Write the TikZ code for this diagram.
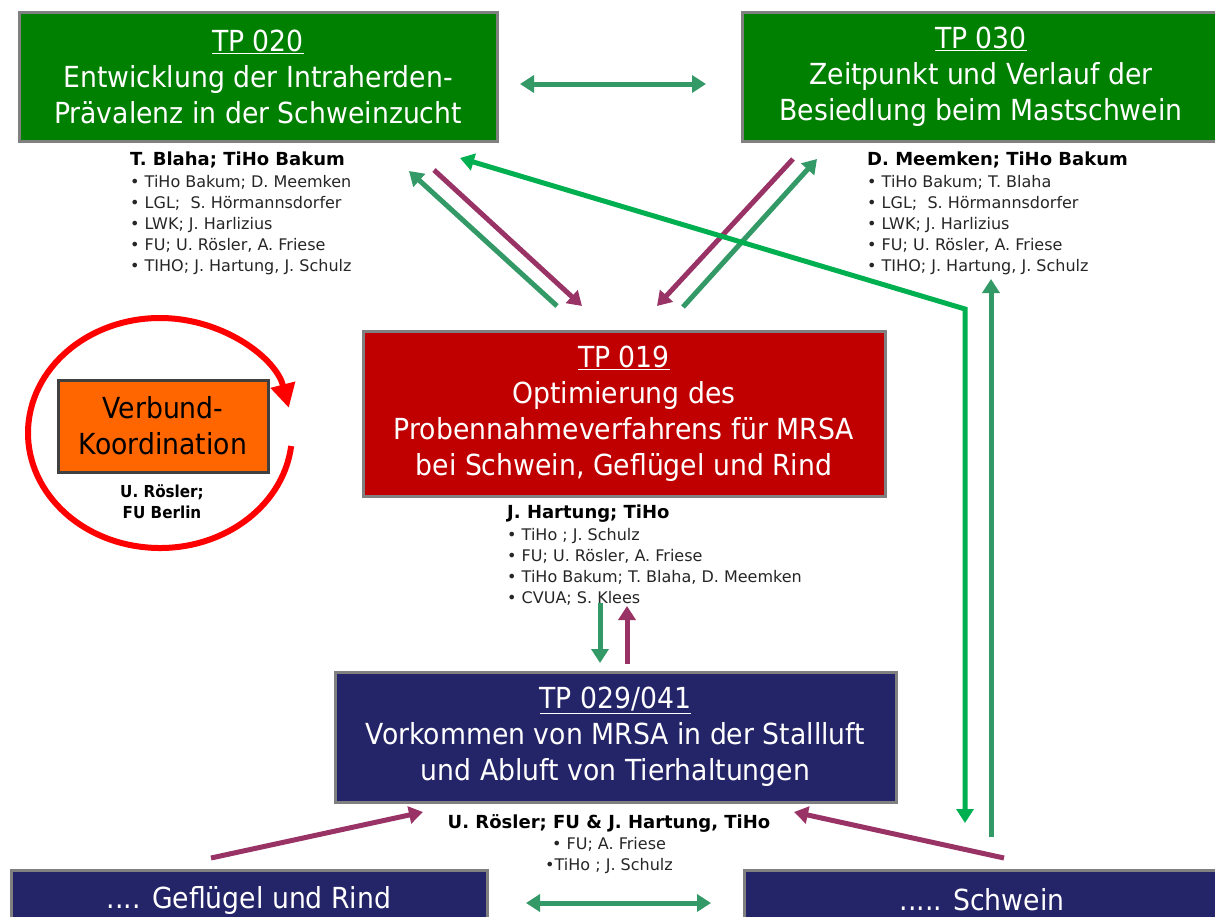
\documentclass[tikz,border=0pt]{standalone}
\usepackage{fontspec}
\setmainfont{DejaVu Sans}
\newfontfamily\tfont[FakeStretch=0.92]{DejaVu Sans}
\newfontfamily\afont{DejaVu Sans}
\usetikzlibrary{arrows.meta}
\definecolor{boxgreen}{HTML}{008000}
\definecolor{boxred}{HTML}{C00000}
\definecolor{boxnavy}{HTML}{242468}
\definecolor{boxorange}{HTML}{FF6600}
\definecolor{sgreen}{HTML}{339966}
\definecolor{bgreen}{HTML}{00B050}
\definecolor{plum}{HTML}{993366}
\definecolor{bordergray}{HTML}{808080}
\definecolor{ringred}{HTML}{FF0000}
\begin{document}
\begin{tikzpicture}[x=1pt,y=-1pt,
  tpbox/.style={draw=bordergray, line width=3pt, text=white, align=center, inner sep=0pt,
    font=\tfont\fontsize{29}{36}\selectfont},
  authors/.style={align=left, anchor=north west, inner sep=0pt,
    font=\afont\fontsize{16}{21.2}\selectfont, text=black!85},
  arr/.style={line width=5pt, -{Triangle[width=17pt,length=14pt]}},
  darr/.style={line width=5pt, {Triangle[width=17pt,length=14pt]}-{Triangle[width=17pt,length=14pt]}},
]
\newcommand{\hdr}[1]{{\bfseries\fontsize{18}{21.2}\selectfont\color{black}#1}}
\useasboundingbox (0,0) rectangle (1215,916);
\fill[white] (0,0) rectangle (1215,916);

% boxes
\node[tpbox, fill=boxgreen, minimum width=478, minimum height=129] (tp20) at (258,76.5)
  {\underline{TP 020}\\Entwicklung der Intraherden-\\Prävalenz in der Schweinzucht};
\node[tpbox, fill=boxgreen, minimum width=478, minimum height=129] (tp30) at (981,76.5)
  {\underline{TP 030}\\Zeitpunkt und Verlauf der\\Besiedlung beim Mastschwein};
\node[tpbox, fill=boxred, minimum width=522, minimum height=165] (tp19) at (624,413.5)
  {\underline{TP 019}\\Optimierung des\\Probennahmeverfahrens für MRSA\\bei Schwein, Geflügel und Rind};
\node[tpbox, fill=boxnavy, minimum width=561, minimum height=130] (tp29) at (615.5,737)
  {\underline{TP 029/041}\\Vorkommen von MRSA in der Stallluft\\und Abluft von Tierhaltungen};
\node[tpbox, fill=boxnavy, minimum width=476, minimum height=60] (gr) at (249,900)
  {.... Geflügel und Rind};
\node[tpbox, fill=boxnavy, minimum width=476, minimum height=60] (sw) at (982,900)
  {..... Schwein};
\node[tpbox, fill=boxorange, draw=black!75, text=black, minimum width=210, minimum height=92] (vk) at (163,426)
  {Verbund-\\Koordination};
\node[align=center, inner sep=0pt, font=\tfont\bfseries\fontsize{16.5}{21}\selectfont] (vkl) at (162,502)
  {U. Rösler;\\FU Berlin};

% coordination ring
\draw[ringred, line width=6pt, -{Triangle[width=24pt,length=24pt]}]
  (160,433) ++(6.5:132 and 115) arc[start angle=6.5, end angle=347.4, x radius=132, y radius=115];

% authors
\node[authors] (a20) at (130,152)
  {\hdr{T. Blaha; TiHo Bakum}\\
   • TiHo Bakum; D. Meemken\\
   • LGL;\ \ S. Hörmannsdorfer\\
   • LWK; J. Harlizius\\
   • FU; U. Rösler, A. Friese\\
   • TIHO; J. Hartung, J. Schulz};
\node[authors] (a30) at (867,152)
  {\hdr{D. Meemken; TiHo Bakum}\\
   • TiHo Bakum; T. Blaha\\
   • LGL;\ \ S. Hörmannsdorfer\\
   • LWK; J. Harlizius\\
   • FU; U. Rösler, A. Friese\\
   • TIHO; J. Hartung, J. Schulz};
\node[authors] (a19) at (507,505)
  {\hdr{J. Hartung; TiHo}\\
   • TiHo ; J. Schulz\\
   • FU; U. Rösler, A. Friese\\
   • TiHo Bakum; T. Blaha, D. Meemken\\
   • CVUA; S. Klees};
\node[authors, anchor=north, align=center] (a29) at (609,814)
  {\hdr{U. Rösler; FU \& J. Hartung, TiHo}\\
   • FU; A. Friese\\
   •TiHo ; J. Schulz};

% connector end points
\coordinate (p20a) at (520,84);   \coordinate (p30a) at (706,84);
\coordinate (g1s) at (557,306);   \coordinate (g1e) at (409,171);
\coordinate (m1s) at (434,170);   \coordinate (m1e) at (582,306);
\coordinate (m2s) at (793,159);   \coordinate (m2e) at (657,306);
\coordinate (g2s) at (683,307);   \coordinate (g2e) at (817,159);
\coordinate (bg1) at (460,158);   \coordinate (bgc) at (965,309);   \coordinate (bg2) at (965,823);
\coordinate (g3s) at (991,837);   \coordinate (g3e) at (991,279);
\coordinate (g4s) at (600,603);   \coordinate (g4e) at (600,663);
\coordinate (m4s) at (627,664);   \coordinate (m4e) at (627,606);
\coordinate (m5s) at (211,858);   \coordinate (m5e) at (423,812);
\coordinate (m6s) at (1004,858);  \coordinate (m6e) at (794,812);
\coordinate (b1) at (526,903);    \coordinate (b2) at (711,903);

\draw[darr, sgreen] (p20a) -- (p30a);
\draw[arr, sgreen] (g1s) -- (g1e);
\draw[arr, plum] (m1s) -- (m1e);
\draw[arr, plum] (m2s) -- (m2e);
\draw[arr, sgreen] (g2s) -- (g2e);
\draw[darr, bgreen, line join=miter] (bg1) -- (bgc) -- (bg2);
\draw[arr, sgreen] (g3s) -- (g3e);
\draw[arr, sgreen] (g4s) -- (g4e);
\draw[arr, plum] (m4s) -- (m4e);
\draw[arr, plum] (m5s) -- (m5e);
\draw[arr, plum] (m6s) -- (m6e);
\draw[darr, sgreen] (b1) -- (b2);
\end{tikzpicture}
\end{document}
